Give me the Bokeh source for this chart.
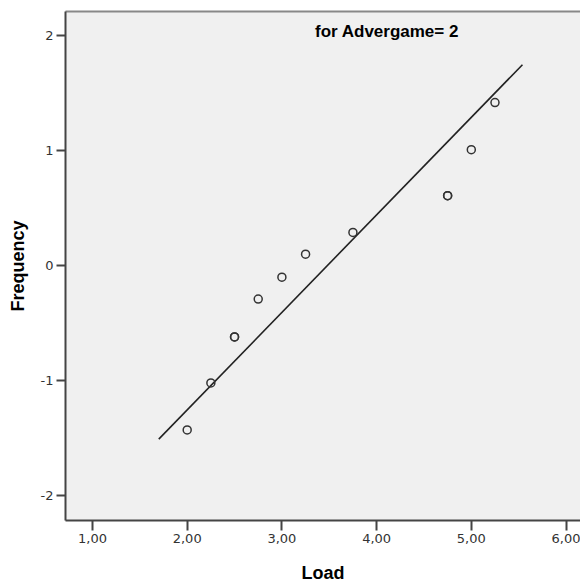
from bokeh.plotting import figure
from bokeh.models import (LinearAxis, Range1d, Label, BoxAnnotation, FixedTicker,
                          CustomJSTickFormatter, ColumnDataSource)
from bokeh.embed import file_html
from bokeh.resources import INLINE

load_values = [2.00, 2.25, 2.50, 2.50, 2.75, 3.00, 3.25, 3.75, 4.75, 4.75, 5.00, 5.25]
expected_normal = [-1.43, -1.02, -0.62, -0.62, -0.29, -0.10, 0.10, 0.29, 0.61, 0.61, 1.01, 1.42]

# Reference line endpoints
line_x = [1.70, 5.54]
line_y = [-1.51, 1.75]

x_ticks = [1, 2, 3, 4, 5, 6]
y_ticks = [-2, -1, 0, 1, 2]
subtitle = "for Advergame= 2"
x_label = "Load"
y_label = "Frequency"

p = figure(width=580, height=586, output_backend="svg", toolbar_location=None,
           x_range=Range1d(0.715, 6.153), y_range=Range1d(-2.218, 2.213),
           x_axis_location=None, y_axis_location=None,
           min_border_left=65, min_border_right=0, min_border_top=11, min_border_bottom=66)
p.background_fill_color = "#f0f0f0"
p.border_fill_color = "white"
p.outline_line_color = None
p.xgrid.visible = False
p.ygrid.visible = False

tick_font = "DejaVu Sans"
label_font = "Liberation Sans"

xaxis = LinearAxis(ticker=FixedTicker(ticks=x_ticks),
                   formatter=CustomJSTickFormatter(code="return tick.toFixed(2).replace('.', ',');"))
yaxis = LinearAxis(ticker=FixedTicker(ticks=y_ticks),
                   formatter=CustomJSTickFormatter(code="return String(Math.round(tick));"))
for ax, lab in ((xaxis, x_label), (yaxis, y_label)):
    ax.axis_label = lab
    ax.axis_label_text_font = label_font
    ax.axis_label_text_font_style = "bold"
    ax.axis_label_text_font_size = "18px"
    ax.axis_label_text_color = "black"
    ax.axis_line_color = "#444444"
    ax.axis_line_width = 2
    ax.major_tick_line_color = "#444444"
    ax.major_tick_line_width = 2
    ax.major_tick_in = 0
    ax.minor_tick_line_color = None
    ax.major_label_text_font = tick_font
    ax.major_label_text_font_size = "13px"
    ax.major_label_text_color = "#333333"
    ax.major_label_standoff = 3
xaxis.major_tick_out = 10
yaxis.major_tick_out = 9
xaxis.axis_label_standoff = 17
yaxis.axis_label_standoff = 10
p.add_layout(xaxis, "below")
p.add_layout(yaxis, "left")

top = LinearAxis(ticker=FixedTicker(ticks=[]), axis_line_color="#888888", axis_line_width=2,
                 major_tick_line_color=None, minor_tick_line_color=None,
                 major_label_text_font_size="0px")
p.add_layout(top, "above")

# light outer border line at the far left
p.add_layout(BoxAnnotation(left=0, right=1.5, top=11, bottom=521,
                           left_units="canvas", right_units="canvas",
                           top_units="canvas", bottom_units="canvas",
                           fill_color="#bdbdbd", fill_alpha=1, line_color=None))

p.line(line_x, line_y, line_color="#222222", line_width=1.6)
src = ColumnDataSource(dict(x=load_values, y=expected_normal))
p.scatter("x", "y", source=src, marker="circle", size=8, fill_color=None,
          line_color="#333333", line_width=1.5)

p.add_layout(Label(x=4.11, y=2.039, text=subtitle, text_align="center", text_baseline="middle",
                   text_font=label_font, text_font_style="bold", text_font_size="17px",
                   text_color="black"))

open("out.html", "w").write(file_html(p, INLINE))
